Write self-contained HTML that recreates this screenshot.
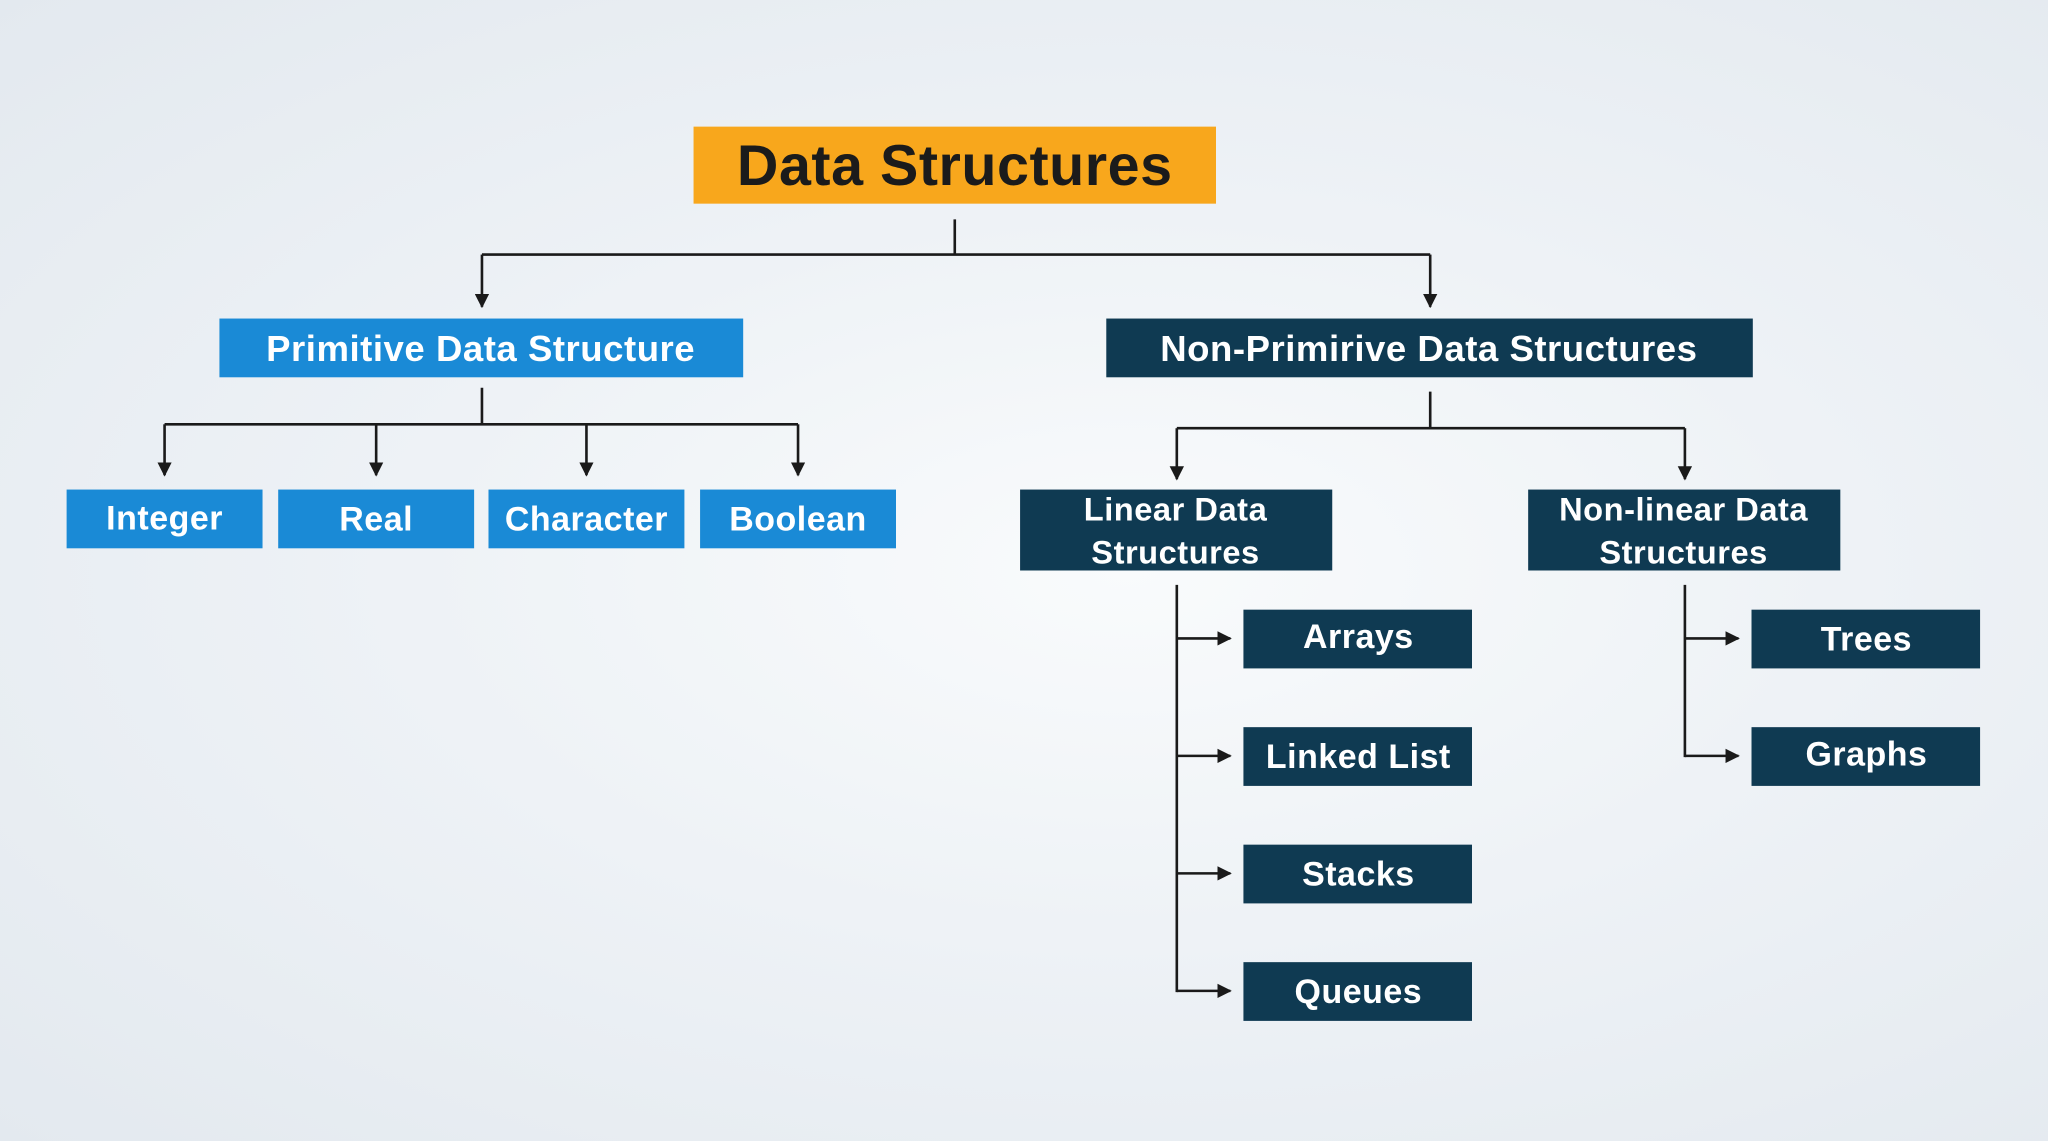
<!DOCTYPE html>
<html><head><meta charset="utf-8"><style>
html,body{margin:0;padding:0;width:2048px;height:1141px;overflow:hidden;}
body{background:radial-gradient(ellipse at 55% 50%,#f9fbfc 0%,#eef2f6 45%,#e3e9ef 100%);}
svg{display:block}
text{font-family:"Liberation Sans",sans-serif;font-weight:bold;text-anchor:middle;dominant-baseline:central;fill:#fff;letter-spacing:0.4px}
</style></head><body>
<svg width="2048" height="1141" viewBox="0 0 1568 874" preserveAspectRatio="none">
<defs><marker id="a" viewBox="0 0 10 10" refX="9" refY="5" markerWidth="5.5" markerHeight="5.5" orient="auto"><path d="M0,0L10,5L0,10z" fill="#1a1a1a"/></marker></defs>
<g stroke="#1a1a1a" stroke-width="2" fill="none">
<path d="M731,168V195M369,195H1095"/>
<path d="M369,195V235" marker-end="url(#a)"/><path d="M1095,195V235" marker-end="url(#a)"/>
<path d="M369,297V325M126,325H611"/>
<path d="M126,325V364" marker-end="url(#a)"/><path d="M288,325V364" marker-end="url(#a)"/>
<path d="M449,325V364" marker-end="url(#a)"/><path d="M611,325V364" marker-end="url(#a)"/>
<path d="M1095,300V328M901,328H1290"/>
<path d="M901,328V367" marker-end="url(#a)"/><path d="M1290,328V367" marker-end="url(#a)"/>
<path d="M901,448V760"/>
<path d="M901,489H942" marker-end="url(#a)"/><path d="M901,579H942" marker-end="url(#a)"/>
<path d="M901,669H942" marker-end="url(#a)"/><path d="M901,759H942" marker-end="url(#a)"/>
<path d="M1290,448V580"/>
<path d="M1290,489H1331" marker-end="url(#a)"/><path d="M1290,579H1331" marker-end="url(#a)"/>
</g>
<rect x="531" y="97" width="400" height="59" fill="#f8a71c"/>
<text x="731" y="127" font-size="44" style="fill:#1b1b1b">Data Structures</text>
<rect x="168" y="244" width="401" height="45" fill="#1a8ad6"/>
<text x="368" y="267" font-size="28">Primitive Data Structure</text>
<rect x="847" y="244" width="495" height="45" fill="#0f3a52"/>
<text x="1094" y="267" font-size="28">Non-Primirive Data Structures</text>
<g fill="#1a8ad6">
<rect x="51" y="375" width="150" height="45"/><rect x="213" y="375" width="150" height="45"/>
<rect x="374" y="375" width="150" height="45"/><rect x="536" y="375" width="150" height="45"/>
</g>
<g font-size="26">
<text x="126" y="397">Integer</text><text x="288" y="398">Real</text>
<text x="449" y="398">Character</text><text x="611" y="398">Boolean</text>
</g>
<g fill="#0f3a52">
<rect x="781" y="375" width="239" height="62"/><rect x="1170" y="375" width="239" height="62"/>
<rect x="952" y="467" width="175" height="45"/><rect x="952" y="557" width="175" height="45"/>
<rect x="952" y="647" width="175" height="45"/><rect x="952" y="737" width="175" height="45"/>
<rect x="1341" y="467" width="175" height="45"/><rect x="1341" y="557" width="175" height="45"/>
</g>
<g font-size="25">
<text x="900" y="390">Linear Data</text><text x="900" y="423">Structures</text>
<text x="1289" y="390">Non-linear Data</text><text x="1289" y="423">Structures</text>
</g>
<g font-size="26">
<text x="1040" y="488">Arrays</text><text x="1040" y="580">Linked List</text>
<text x="1040" y="670">Stacks</text><text x="1040" y="760">Queues</text>
<text x="1429" y="490">Trees</text><text x="1429" y="578">Graphs</text>
</g>
</svg>
</body></html>
